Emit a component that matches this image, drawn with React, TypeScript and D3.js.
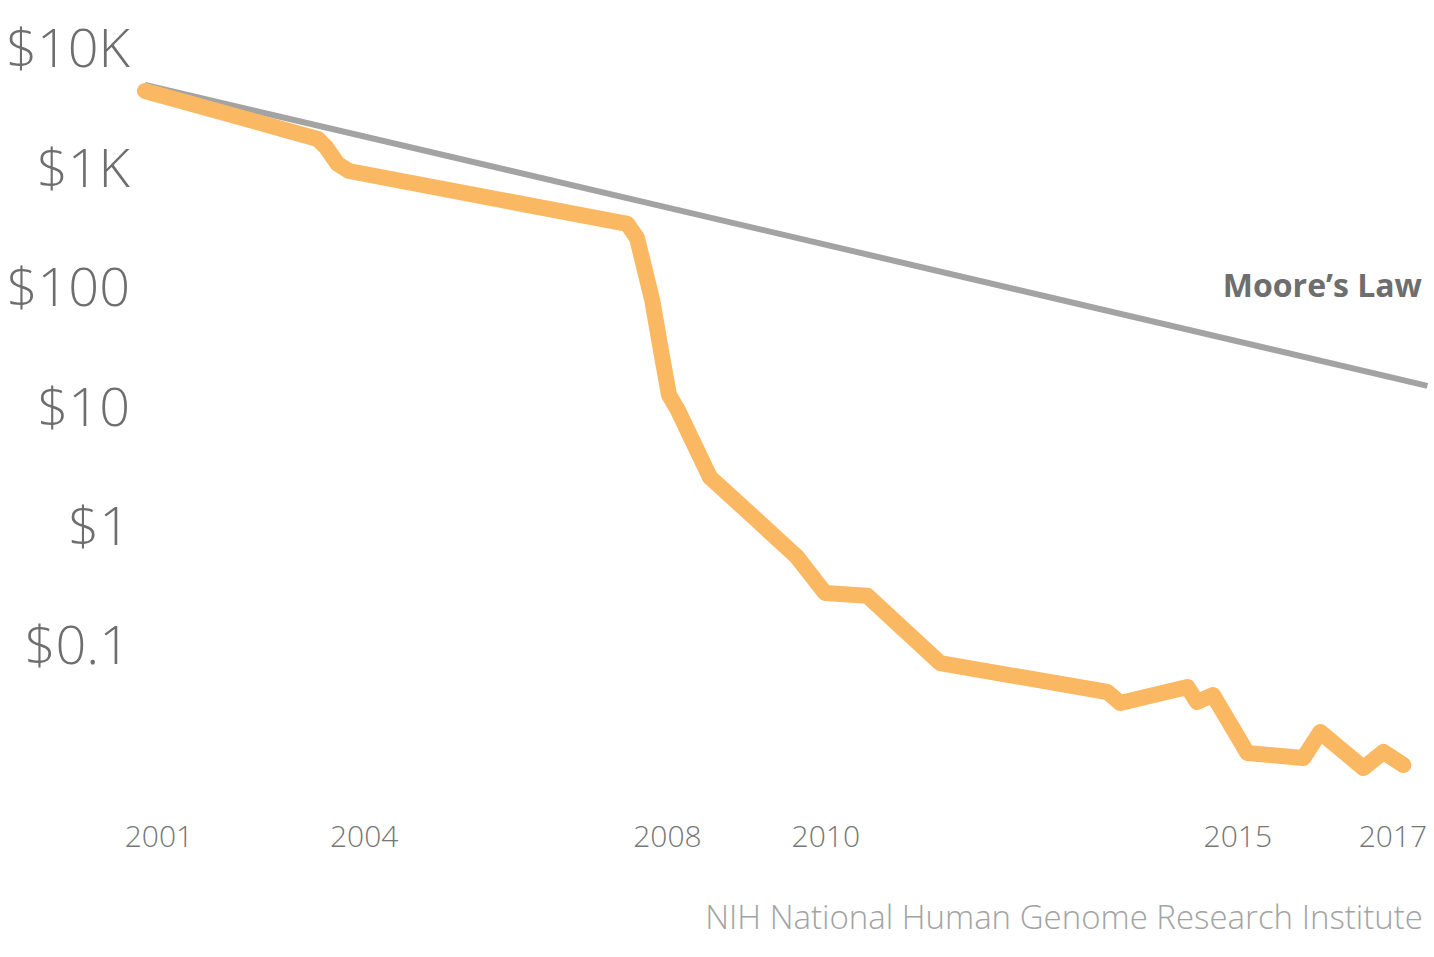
import * as d3 from 'd3';
import React, { useRef, useEffect } from 'react';

// sequencing cost per megabase (fractional year, dollars)
const costYears = [2001.75, 2003.91, 2004.01, 2004.16, 2004.30, 2007.78, 2007.90, 2008.09, 2008.21, 2008.30, 2008.41,
  2008.81, 2009.40, 2009.90, 2010.25, 2010.78, 2011.69, 2013.78, 2013.94, 2014.78, 2014.90, 2015.10,
  2015.53, 2016.23, 2016.44, 2016.98, 2017.23, 2017.48];
const costValues = [4370, 1730, 1483, 1067, 933, 336, 256, 77.4, 26.8, 12.4, 9.29,
  2.55, 1.11, 0.546, 0.273, 0.258, 0.0706, 0.0404, 0.0327, 0.0445, 0.0333, 0.0381,
  0.01245, 0.01132, 0.01868, 0.00933, 0.0127, 0.00989];

// Moore's law reference line
const mooreYears = [2001.75, 2017.78];
const mooreValues = [4900, 14.8];

const yTicks = [10000, 1000, 100, 10, 1, 0.1];
const yTickLabels = ['$10K', '$1K', '$100', '$10', '$1', '$0.1'];

const xTickPos = [2001.925, 2004.49, 2008.28, 2010.26, 2015.41, 2017.35];
const xTickLabels = ['2001', '2004', '2008', '2010', '2015', '2017'];

function CostChart({ width, height }) {
    const ref = useRef(null);

    useEffect(() => {
        document.body.style.margin = '0';
        const svg = d3.select(ref.current);
        svg.selectAll('*').remove();
        svg.attr('width', width).attr('height', height);

        const font = "'Open Sans', sans-serif";

        var x = d3.scaleLinear().domain([2001.75, 2017.75]).range([145, 1425]);
        var y = d3.scaleLog().domain([0.1, 10000]).range([645, 48]);

        // y labels
        svg.append('g')
            .selectAll('text')
            .data(yTicks)
            .enter()
            .append('text')
            .attr('x', 130)
            .attr('y', d => y(d))
            .attr('dy', '0.36em')
            .attr('text-anchor', 'end')
            .style('font-family', font)
            .style('font-weight', 300)
            .style('font-size', '54px')
            .style('fill', '#6e6e6e')
            .text((d, i) => yTickLabels[i]);

        // x labels
        svg.append('g')
            .selectAll('text')
            .data(xTickPos)
            .enter()
            .append('text')
            .attr('x', d => x(d))
            .attr('y', 847)
            .attr('text-anchor', 'middle')
            .style('font-family', font)
            .style('font-weight', 300)
            .style('font-size', '30px')
            .style('fill', '#777777')
            .text((d, i) => xTickLabels[i]);

        const line = d3.line()
            .x(d => x(d[0]))
            .y(d => y(d[1]));

        // moore's law
        svg.append('path')
            .datum(mooreYears.map((t, i) => [t, mooreValues[i]]))
            .attr('d', line)
            .attr('fill', 'none')
            .attr('stroke', '#a3a3a3')
            .attr('stroke-width', 6);

        // cost curve
        svg.append('path')
            .datum(costYears.map((t, i) => [t, costValues[i]]))
            .attr('d', line)
            .attr('fill', 'none')
            .attr('stroke', '#fbb862')
            .attr('stroke-width', 16)
            .attr('stroke-linecap', 'round')
            .attr('stroke-linejoin', 'round');

        svg.append('text')
            .attr('x', 1422)
            .attr('y', 297)
            .attr('text-anchor', 'end')
            .style('font-family', font)
            .style('font-weight', 700)
            .style('font-size', '32px')
            .style('fill', '#6e6e6e')
            .text('Moore\u2019s Law');

        svg.append('text')
            .attr('x', 1423)
            .attr('y', 929)
            .attr('text-anchor', 'end')
            .style('font-family', font)
            .style('font-weight', 300)
            .style('font-size', '33px')
            .style('fill', '#a3a3a3')
            .text('NIH National Human Genome Research Institute');
    }, [width, height]);

    return (
        <svg ref={ref} style={{ display: 'block' }}></svg>
    );
}

export default function App() {
    return <CostChart width={1434} height={957} />;
}
